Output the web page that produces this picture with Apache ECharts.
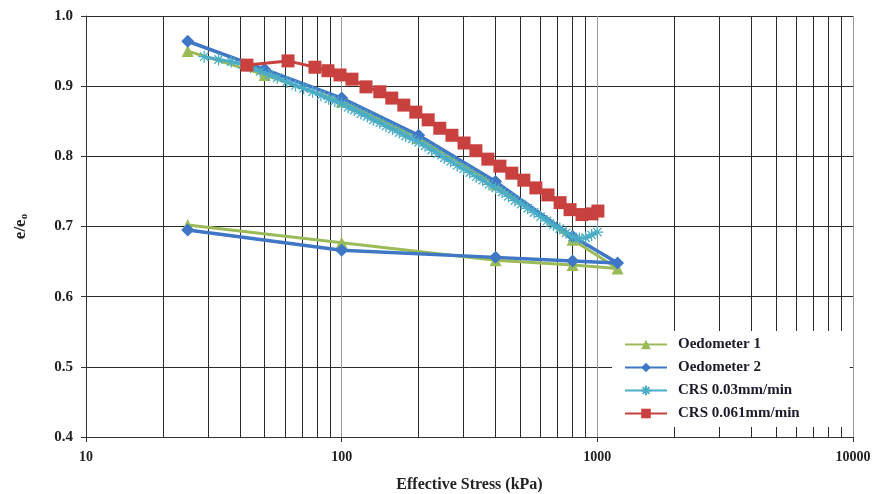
<!DOCTYPE html>
<html>
<head>
<meta charset="utf-8">
<script src="https://cdn.jsdelivr.net/npm/echarts@6/dist/echarts.min.js"></script>
<style>
html,body{margin:0;padding:0;background:#fff;}
#chart{width:880px;height:494px;}
</style>
</head>
<body>
<div id="chart"></div>
<script>
// ---- Data ----
const seriesNames = ['Oedometer 1', 'Oedometer 2', 'CRS 0.03mm/min', 'CRS 0.061mm/min'];

const oed1Stress = [25, 50, 100, 200, 400, 800, 1200, 800, 400, 100, 25];
const oed1Ratio  = [0.950, 0.916, 0.878, 0.826, 0.760, 0.681, 0.640, 0.645, 0.652, 0.677, 0.702];

const oed2Stress = [25, 50, 100, 200, 400, 800, 1200, 800, 400, 100, 25];
const oed2Ratio  = [0.964, 0.924, 0.883, 0.830, 0.764, 0.686, 0.648, 0.651, 0.656, 0.666, 0.695];

const crs03Stress = [29, 33, 37, 41, 44, 48, 52, 56, 61, 66, 71, 77, 83, 89, 94, 100,
  106, 112, 119, 126, 133, 141, 149, 158, 168, 178, 189, 200,
  212, 225, 238, 252, 267, 283, 300, 317, 336, 356, 377, 400,
  424, 449, 476, 504, 534, 566, 600, 636, 673, 713, 755, 800,
  850, 900, 950, 1000];
const crs03Ratio = [0.942, 0.938, 0.935, 0.931, 0.927, 0.921, 0.916, 0.912, 0.906, 0.901, 0.897, 0.892, 0.887, 0.882, 0.879, 0.875,
  0.870, 0.866, 0.861, 0.857, 0.852, 0.848, 0.843, 0.839, 0.834, 0.829, 0.825, 0.820,
  0.815, 0.809, 0.804, 0.798, 0.793, 0.787, 0.782, 0.777, 0.771, 0.766, 0.760, 0.755,
  0.749, 0.743, 0.737, 0.732, 0.726, 0.720, 0.714, 0.708, 0.702, 0.697, 0.691, 0.685,
  0.683, 0.684, 0.688, 0.692];

const crs061Stress = [42.6, 61.7, 78.6, 88.4, 98.5, 109.7, 124.5, 141, 157, 175, 195, 218, 242, 270,
  301, 335, 373, 416, 463, 516, 575, 641, 715, 782, 871, 953, 1005];
const crs061Ratio = [0.930, 0.936, 0.927, 0.922, 0.916, 0.910, 0.899, 0.892, 0.883, 0.873, 0.863, 0.852, 0.840, 0.830,
  0.819, 0.808, 0.796, 0.786, 0.776, 0.766, 0.755, 0.745, 0.734, 0.724, 0.717, 0.718, 0.722];

const xTicks = [10, 100, 1000, 10000];
const yMin = 0.4, yMax = 1.0, yStep = 0.1;

// minor vertical grid lines at 2..9 x each decade
const minorGrid = [];
[10, 100, 1000].forEach(d => { for (let k = 2; k <= 9; k++) minorGrid.push(d * k); });

const zip = (xs, ys) => xs.map((x, i) => [x, ys[i]]);

const serif = 'Liberation Serif';
const asterisk = 'path://M0,5L10,5M5,0L5,10M1.5,1.5L8.5,8.5M1.5,8.5L8.5,1.5';

const chart = echarts.init(document.getElementById('chart'), null, {renderer: 'canvas'});
chart.setOption({
  animation: false,
  backgroundColor: '#ffffff',
  grid: {left: 86, right: 27, top: 16, bottom: 57, containLabel: false, outerBoundsMode: 'none'},
  legend: {
    orient: 'vertical',
    left: 612, top: 331,
    padding: [6, 50, 6, 12],
    backgroundColor: '#ffffff',
    itemWidth: 42, itemHeight: 12, itemGap: 8,
    data: seriesNames,
    textStyle: {fontFamily: serif, fontWeight: 'bold', fontSize: 15, color: '#1b1b2a', padding: [0, 0, 0, 6]},
    z: 10
  },
  xAxis: {
    type: 'log', logBase: 10, min: 10, max: 10000,
    name: 'Effective Stress (kPa)', nameLocation: 'middle', nameGap: 40,
    nameTextStyle: {fontFamily: serif, fontWeight: 'bold', fontSize: 16, color: '#222'},
    axisLine: {show: true, lineStyle: {color: '#333', width: 1}},
    axisTick: {show: true, length: 5, lineStyle: {color: '#333'}},
    axisLabel: {fontFamily: serif, fontWeight: 'bold', fontSize: 14, color: '#222', margin: 13,
      formatter: v => xTicks.includes(Math.round(v)) ? String(Math.round(v)) : ''},
    splitLine: {show: true, lineStyle: {color: '#9a9a9a', width: 1}},
    minorTick: {show: false}, minorSplitLine: {show: false}
  },
  yAxis: {
    type: 'value', min: yMin, max: yMax, interval: yStep,
    name: '{m|e/e}{s|o}', nameLocation: 'middle', nameGap: 56, nameRotate: 90,
    nameTextStyle: {
      rich: {
        m: {fontFamily: serif, fontWeight: 'bold', fontSize: 17, color: '#222'},
        s: {fontFamily: serif, fontWeight: 'bold', fontSize: 11, color: '#222', verticalAlign: 'bottom', padding: [7, 0, 0, 0]}
      }
    },
    axisLine: {show: true, lineStyle: {color: '#333', width: 1}},
    axisTick: {show: true, length: 5, lineStyle: {color: '#333'}},
    axisLabel: {fontFamily: serif, fontWeight: 'bold', fontSize: 15, color: '#222', margin: 13,
      formatter: v => v.toFixed(1)},
    splitLine: {show: true, lineStyle: {color: '#2a2a2a', width: 1}}
  },
  series: [
    {
      name: seriesNames[0], type: 'line', data: zip(oed1Stress, oed1Ratio),
      symbol: 'triangle', symbolSize: 12,
      lineStyle: {color: '#9BBB59', width: 3}, itemStyle: {color: '#9BBB59'},
      markLine: {
        silent: true, symbol: 'none', label: {show: false},
        lineStyle: {color: '#2a2a2a', width: 1, type: 'solid'},
        data: minorGrid.map(v => ({xAxis: v})),
        z: 1
      },
      z: 3
    },
    {
      name: seriesNames[1], type: 'line', data: zip(oed2Stress, oed2Ratio),
      symbol: 'diamond', symbolSize: 13,
      lineStyle: {color: '#3F77C6', width: 3.5}, itemStyle: {color: '#3F77C6'},
      z: 4
    },
    {
      name: seriesNames[2], type: 'line', data: zip(crs03Stress, crs03Ratio),
      symbol: asterisk, symbolSize: 12, symbolKeepAspect: true,
      lineStyle: {color: '#4BACC6', width: 3},
      itemStyle: {color: '#4BACC6', borderColor: '#4BACC6', borderWidth: 1.3},
      z: 5
    },
    {
      name: seriesNames[3], type: 'line', data: zip(crs061Stress, crs061Ratio),
      symbol: 'rect', symbolSize: 13,
      lineStyle: {color: '#C8413E', width: 3}, itemStyle: {color: '#C8413E'},
      z: 6
    }
  ]
});
</script>
</body>
</html>
